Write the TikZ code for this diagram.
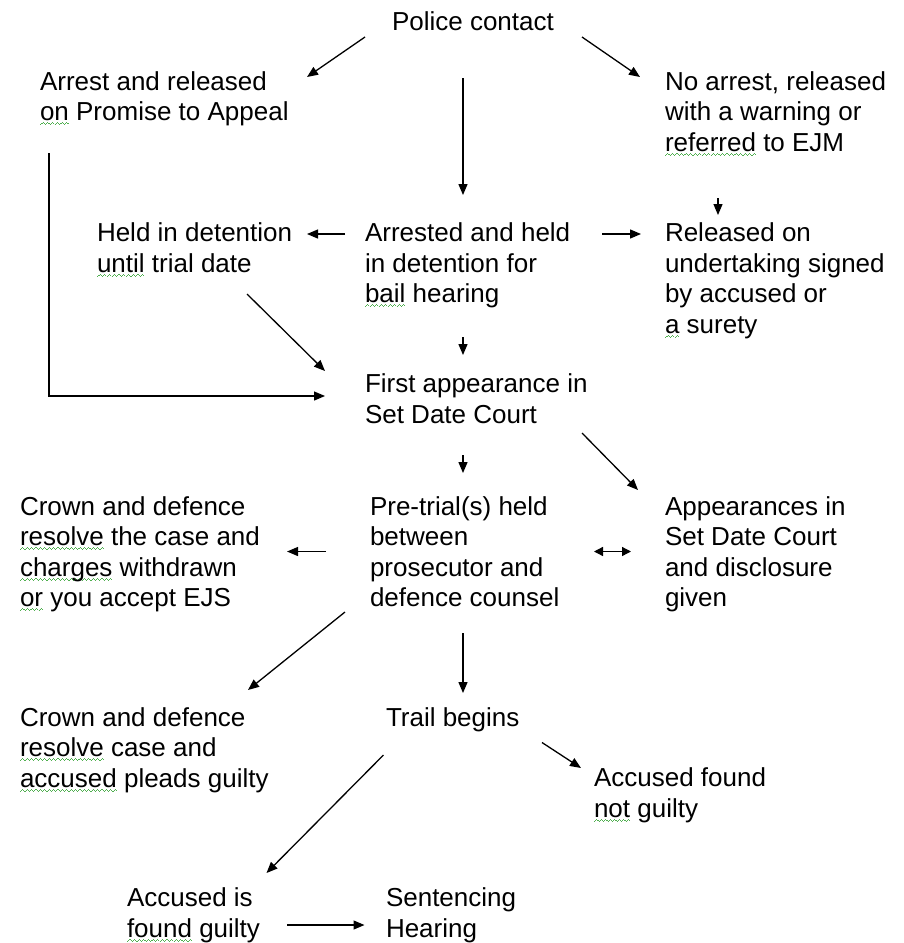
\documentclass[tikz,border=0pt]{standalone}
\usepackage{fontspec}
\setmainfont{Liberation Sans}
\usetikzlibrary{arrows.meta,calc}
\definecolor{squig}{RGB}{80,175,80}
\newsavebox\sqbox
\newcommand\squnit{\hbox{\rule{1.1pt}{1pt}\raisebox{1pt}{\rule{1.1pt}{1pt}}\raisebox{2pt}{\rule{1.1pt}{1pt}}\raisebox{1pt}{\rule{1.1pt}{1pt}}}}
\newcommand\sqw[1]{\sbox\sqbox{#1}\rlap{\color{squig}\lower4.5pt\hbox to\wd\sqbox{\xleaders\squnit\hfil}}\usebox\sqbox}
\tikzset{
  txt/.style={anchor=north west, align=left, inner sep=0pt, outer sep=0pt,
    font=\fontsize{26}{30.5}\selectfont},
  arr/.style={line width=1.3pt, -{Triangle[length=11pt,width=9pt]}},
  darr/.style={line width=1.3pt, {Triangle[length=9pt,width=9pt]}-{Triangle[length=9pt,width=9pt]}}
}
\begin{document}
\begin{tikzpicture}[x=1pt,y=-1pt]
\useasboundingbox (0,0) rectangle (904,943);
\fill[white] (0,0) rectangle (904,943);

\node[txt] (police) at (392,11.4) {Police contact};
\node[txt] (arrest) at (40,71.4) {Arrest and released\\\sqw{on} Promise to Appeal};
\node[txt] (noarrest) at (665,71.4) {No arrest, released\\with a warning or\\\sqw{referred} to EJM};
\node[txt] (held) at (97,223.1) {Held in detention\\\sqw{until} trial date};
\node[txt] (arrested) at (365,223.1) {Arrested and held\\in detention for\\\sqw{bail} hearing};
\node[txt] (released) at (665,223.1) {Released on\\undertaking signed\\by accused or\\\sqw{a} surety};
\node[txt] (first) at (365,374.1) {First appearance in\\Set Date Court};
\node[txt] (crownA) at (20,496.4) {Crown and defence\\\sqw{resolve} the case and\\\sqw{charges} withdrawn\\\sqw{or} you accept EJS};
\node[txt] (pretrial) at (370,496.4) {Pre-trial(s) held\\between\\prosecutor and\\defence counsel};
\node[txt] (appear) at (665,496.4) {Appearances in\\Set Date Court\\and disclosure\\given};
\node[txt] (crownB) at (20,707.4) {Crown and defence\\\sqw{resolve} case and\\\sqw{accused} pleads guilty};
\node[txt] (trail) at (386,707.4) {Trail begins};
\node[txt] (notguilty) at (594,768) {Accused found\\\sqw{not} guilty};
\node[txt] (foundguilty) at (127,888) {Accused is\\\sqw{found} guilty};
\node[txt] (sentencing) at (386,888) {Sentencing\\Hearing};

\draw[arr] ($(police.north west)+(-27,25.6)$) -- ($(arrest.north west)+(267,5.6)$);
\draw[arr] ($(police.north west)+(190,25.6)$) -- ($(noarrest.north west)+(-25,5.6)$);
\draw[arr] ($(police.north west)+(71,66.6)$) -- ($(arrested.north west)+(98,-28.1)$);
\draw[arr] ($(noarrest.north west)+(53,126.6)$) -- ($(released.north west)+(53,-8.1)$);
\draw[arr] ($(arrested.north west)+(-20,10.9)$) -- ($(held.north west)+(210,10.9)$);
\draw[arr] ($(arrested.north west)+(237,10.9)$) -- ($(released.north west)+(-24,10.9)$);
\draw[arr] ($(arrested.north west)+(98,113.9)$) -- ($(first.north west)+(98,-19.1)$);
\draw[arr] ($(held.north west)+(150,70.9)$) -- ($(first.north west)+(-40,-3.1)$);
\draw[arr] ($(arrest.north west)+(9,81.6)$) |- ($(first.north west)+(-40,21.9)$);
\draw[arr] ($(first.north west)+(98,80.9)$) -- ($(pretrial.north west)+(93,-23.4)$);
\draw[arr] ($(first.north west)+(217,58.9)$) -- ($(appear.north west)+(-27,-6.4)$);
\draw[arr] ($(pretrial.north west)+(-44,55.1)$) -- ($(crownA.north west)+(267,55.1)$);
\draw[darr] ($(pretrial.north west)+(224,55.1)$) -- ($(appear.north west)+(-34,55.1)$);
\draw[arr] ($(pretrial.north west)+(-25,115.6)$) -- ($(crownB.north west)+(228,-17.4)$);
\draw[arr] ($(pretrial.north west)+(93,136.6)$) -- ($(trail.north west)+(77,-14.4)$);
\draw[arr] ($(trail.north west)+(156,35.1)$) -- ($(notguilty.north west)+(-13,0)$);
\draw[arr] ($(trail.north west)+(-2.5,47.6)$) -- ($(foundguilty.north west)+(139.5,-15)$);
\draw[arr] ($(foundguilty.north west)+(160,37)$) -- ($(sentencing.north west)+(-21.5,37)$);
\end{tikzpicture}
\end{document}
